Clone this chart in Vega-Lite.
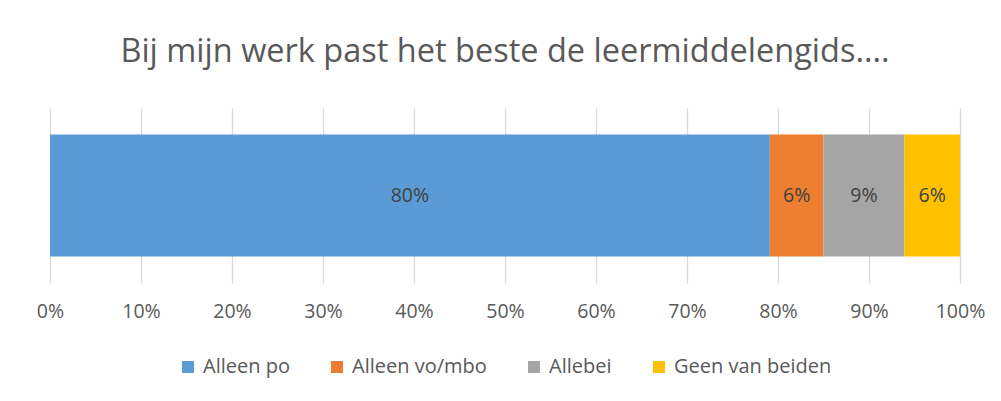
{
  "$schema": "https://vega.github.io/schema/vega-lite/v6.json",
  "width": 910,
  "height": 175,
  "autosize": "none",
  "padding": {"left": 50, "top": 108, "right": 41, "bottom": 118},
  "background": "white",
  "title": {
    "text": "Bij mijn werk past het beste de leermiddelengids....",
    "font": "Open Sans",
    "fontSize": 32.5,
    "fontWeight": "normal",
    "color": "#595959",
    "offset": 40,
    "anchor": "middle"
  },
  "data": {
    "values": [
      {"cat": "Alleen po", "value": 79.1, "label": "80%", "order": 1},
      {"cat": "Alleen vo/mbo", "value": 5.9, "label": "6%", "order": 2},
      {"cat": "Allebei", "value": 8.9, "label": "9%", "order": 3},
      {"cat": "Geen van beiden", "value": 6.1, "label": "6%", "order": 4}
    ]
  },
  "transform": [
    {"stack": "value", "groupby": [], "sort": [{"field": "order"}], "as": ["v0", "v1"]},
    {"calculate": "(datum.v0 + datum.v1) / 2", "as": "mid"}
  ],
  "layer": [
    {
      "mark": {"type": "bar", "size": 122},
      "encoding": {
        "x": {
          "field": "v0",
          "type": "quantitative",
          "scale": {"domain": [0, 100], "nice": false},
          "axis": {
            "title": null,
            "values": [0, 10, 20, 30, 40, 50, 60, 70, 80, 90, 100],
            "labelExpr": "datum.value + '%'",
            "domain": false,
            "ticks": false,
            "grid": true,
            "gridColor": "#d9d9d9",
            "gridWidth": 1.3,
            "labelFont": "Open Sans",
            "labelFontSize": 19.5,
            "labelColor": "#595959",
            "labelPadding": 19,
            "labelFlush": false,
            "labelOverlap": false
          }
        },
        "x2": {"field": "v1"},
        "color": {
          "field": "cat",
          "type": "nominal",
          "sort": ["Alleen po", "Alleen vo/mbo", "Allebei", "Geen van beiden"],
          "scale": {
            "domain": ["Alleen po", "Alleen vo/mbo", "Allebei", "Geen van beiden"],
            "range": ["#5B9BD5", "#ED7D31", "#A5A5A5", "#FFC000"]
          },
          "legend": {
            "title": null,
            "orient": "bottom",
            "direction": "horizontal",
            "symbolType": "square",
            "symbolSize": 144,
            "symbolStrokeWidth": 0,
            "labelFont": "Open Sans",
            "labelFontSize": 20,
            "labelColor": "#595959",
            "columnPadding": 37,
            "labelOffset": 5,
            "offset": 36
          }
        }
      }
    },
    {
      "mark": {"type": "text", "font": "Open Sans", "fontSize": 19.5, "color": "#404040"},
      "encoding": {
        "x": {"field": "mid", "type": "quantitative"},
        "text": {"field": "label"}
      }
    }
  ],
  "config": {
    "view": {"stroke": null},
    "legend": {"layout": {"bottom": {"anchor": "middle"}}}
  }
}
